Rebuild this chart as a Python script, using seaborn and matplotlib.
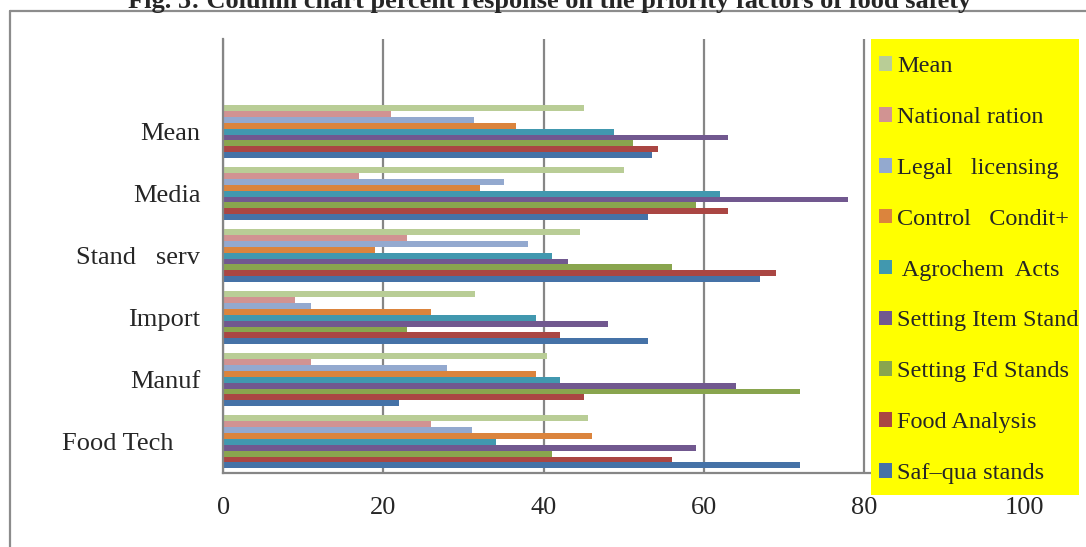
import numpy as np
import pandas as pd
import matplotlib
matplotlib.use("Agg")
import matplotlib.pyplot as plt
import seaborn as sns
from matplotlib.lines import Line2D
from matplotlib.patches import Patch, Rectangle
from matplotlib.ticker import FixedLocator

# ---------------- data ----------------
categories = ["Mean", "Media", "Stand   serv", "Import", "Manuf", "Food Tech"]
category_labels = ["Mean", "Media", "Stand   serv", "Import", "Manuf", "Food Tech    "]
series = ["Mean", "National ration", "Legal   licensing", "Control   Condit+",
          " Agrochem  Acts", "Setting Item Stand", "Setting Fd Stands",
          "Food Analysis", "Saf\u2013qua stands"]

mean_vals = [45, 50, 44.5, 31.4, 40.4, 45.6]
national_ration = [21, 17, 23, 9, 11, 26]
legal_licensing = [31.3, 35, 38, 11, 28, 31]
control_condit = [36.5, 32, 19, 26, 39, 46]
agrochem_acts = [48.8, 62, 41, 39, 42, 34]
setting_item_stand = [63, 78, 43, 48, 64, 59]
setting_fd_stands = [51.2, 59, 56, 23, 72, 41]
food_analysis = [54.3, 63, 69, 42, 45, 56]
safqua_stands = [53.5, 53, 67, 53, 22, 72]

series_values = [mean_vals, national_ration, legal_licensing, control_condit,
                 agrochem_acts, setting_item_stand, setting_fd_stands,
                 food_analysis, safqua_stands]
colors = ["#B9CD96", "#D19392", "#93A9CF", "#DB843D", "#4198AF",
          "#71588F", "#89A54E", "#AA4643", "#4572A7"]
x_ticks = [0, 20, 40, 60, 80, 100]

rows = []
for s, vals in zip(series, series_values):
    for c, v in zip(categories, vals):
        rows.append({"category": c, "series": s, "value": v})
df = pd.DataFrame(rows)

# ---------------- figure ----------------
sns.set_style("white")
plt.rcParams["font.family"] = ["Liberation Serif", "DejaVu Serif"]

W, H = 1086, 547
fig = plt.figure(figsize=(W / 100, H / 100), dpi=100)
ax_l, ax_r, ax_t, ax_b = 223.3, 1024.0, 38.5, 472.7
ax = fig.add_axes([ax_l / W, 1 - ax_b / H, (ax_r - ax_l) / W, (ax_b - ax_t) / H])

gray = "#868686"
sns.barplot(data=df, y="category", x="value", hue="series", order=categories,
            hue_order=series, palette=colors, orient="h", width=0.86,
            saturation=1, edgecolor="none", linewidth=0, ax=ax, legend=True)

ax.set_xlim(0, 100)
ax.set_ylim(5.5, -1.5)
ax.set_axisbelow(True)
ax.xaxis.grid(True, color=gray, linewidth=1.6)
ax.yaxis.grid(False)
ax.set_xlabel("")
ax.set_ylabel("")
ax.set_xticks(x_ticks)
ax.set_xticklabels([str(t) for t in x_ticks], fontsize=19)
ax.set_yticks(range(len(categories)))
ax.set_yticklabels(category_labels, fontsize=19)
ax.yaxis.set_minor_locator(FixedLocator(np.arange(-1.5, 6.0, 1.0)))
ax.tick_params(axis="y", which="major", length=0, pad=16.5)
ax.tick_params(axis="y", which="minor", length=5, width=1.5, color=gray, direction="out")
ax.tick_params(axis="x", which="major", length=5, width=1.5, color=gray, direction="out", pad=12.5)
for side in ["top", "right"]:
    ax.spines[side].set_visible(False)
for side in ["left", "bottom"]:
    ax.spines[side].set_color(gray)
    ax.spines[side].set_linewidth(1.6)

# legend on a yellow panel
old = ax.get_legend()
if old is not None:
    old.remove()
fig.add_artist(Rectangle((871 / W, 1 - 495 / H), (1079 - 871) / W, (495 - 39) / H,
                         transform=fig.transFigure, facecolor="#FFFF00",
                         edgecolor="none", zorder=5))
handles = [Patch(facecolor=c, edgecolor="none") for c in colors]
leg = fig.legend(handles, series, loc="upper left",
                 bbox_to_anchor=(879 / W, 1 - 56 / H),
                 frameon=False, fontsize=17.5,
                 handlelength=0.55, handleheight=0.55, handletextpad=0.2,
                 labelspacing=1.23, borderpad=0, borderaxespad=0)
leg.set_zorder(6)

# title (cropped at the top like the reference)
fig.text(550 / W, 1 - 8 / H,
         "Fig. 5: Column chart percent response on the priority factors of food safety",
         ha="center", va="baseline", fontsize=19, fontweight="bold")

# outer frame
fig.add_artist(Line2D([10 / W, 10 / W], [0, 1 - 11 / H], transform=fig.transFigure,
                      color="#8c8c8c", linewidth=1.6))
fig.add_artist(Line2D([10 / W, 1], [1 - 11 / H, 1 - 11 / H], transform=fig.transFigure,
                      color="#8c8c8c", linewidth=1.6))

fig.savefig("out.png", dpi=100)
